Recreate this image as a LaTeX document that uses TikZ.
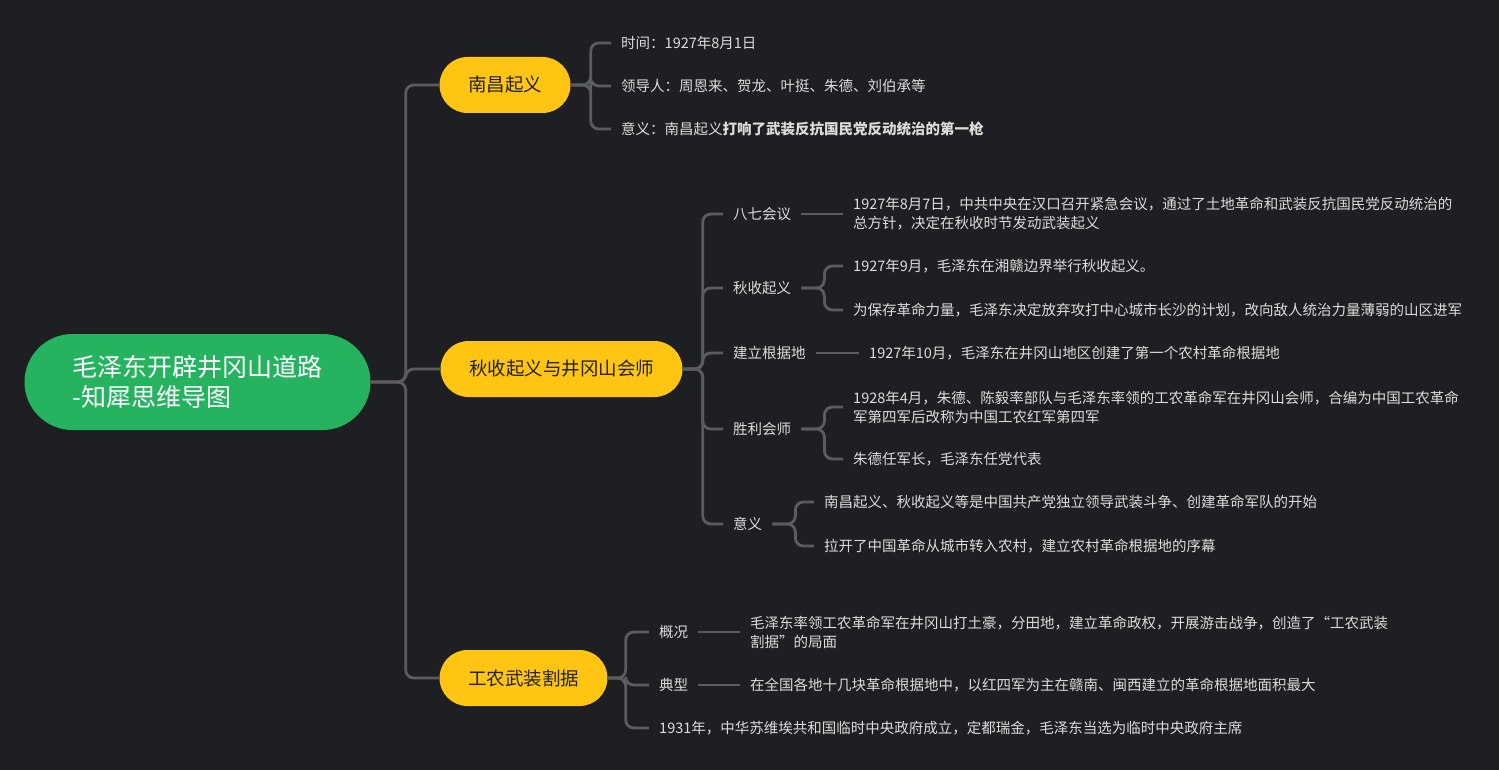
\documentclass[tikz,border=0pt]{standalone}
\usepackage{fontspec}
\setmainfont{Noto Sans CJK SC}
\definecolor{bgc}{HTML}{1E1F22}
\definecolor{linec}{HTML}{5B5C5F}
\definecolor{leafc}{HTML}{DCDCDC}
\definecolor{greenc}{HTML}{25B35F}
\definecolor{yellowc}{HTML}{FFC512}
\definecolor{darkc}{HTML}{222222}

\tikzstyle{central}=[rectangle,
    fill=greenc,
    text=white,
    rounded corners=48pt,
    minimum width=345pt,
    minimum height=96pt,
    inner xsep=48pt,
    align=left,
    font=\fontsize{25}{30}\selectfont]
\tikzstyle{topic}=[rectangle,
    fill=yellowc,
    text=darkc,
    rounded corners=28pt,
    minimum height=56pt,
    inner xsep=28.5pt,
    font=\fontsize{18.5}{22}\selectfont]
\tikzstyle{leaf}=[anchor=west,
    inner xsep=10pt,
    inner ysep=2pt,
    text=leafc,
    align=left,
    font=\fontsize{14.5}{19}\selectfont]
\tikzstyle{link}=[draw=linec, line width=2.8pt, rounded corners=8pt]

\begin{document}
\begin{tikzpicture}[x=1pt,y=-1pt]
            \fill[bgc] (0,0) rectangle (1499,770);
            \useasboundingbox (0,0) rectangle (1499,770);

            \node (main) [central] at (197.5,382) {毛泽东开辟井冈山道路\\-知犀思维导图};
            \node (nanchang) [topic] at (505,85) {南昌起义};
            \node (qiushou) [topic] at (561.5,369) {秋收起义与井冈山会师};
            \node (gongnong) [topic] at (523.5,678) {工农武装割据};

            \node (shijian) [leaf] at (611,43) {时间：1927年8月1日};
            \node (lingdao) [leaf] at (611,86) {领导人：周恩来、贺龙、叶挺、朱德、刘伯承等};
            \node (yiyiA) [leaf] at (611,129) {意义：南昌起义\textbf{打响了武装反抗国民党反动统治的第一枪}};

            \node (baqi) [leaf] at (723,214) {八七会议};
            \node (baqiT) [leaf] at (843,214) {1927年8月7日，中共中央在汉口召开紧急会议，通过了土地革命和武装反抗国民党反动统治的\\总方针，决定在秋收时节发动武装起义};
            \node (qiu) [leaf] at (723,288) {秋收起义};
            \node (qiuA) [leaf] at (843,266) {1927年9月，毛泽东在湘赣边界举行秋收起义。};
            \node (qiuB) [leaf] at (843,310) {为保存革命力量，毛泽东决定放弃攻打中心城市长沙的计划，改向敌人统治力量薄弱的山区进军};
            \node (genju) [leaf] at (723,353) {建立根据地};
            \node (genjuT) [leaf] at (859,353) {1927年10月，毛泽东在井冈山地区创建了第一个农村革命根据地};
            \node (huishi) [leaf] at (723,429) {胜利会师};
            \node (huishiA) [leaf] at (843,407) {1928年4月，朱德、陈毅率部队与毛泽东率领的工农革命军在井冈山会师，合编为中国工农革命\\军第四军后改称为中国工农红军第四军};
            \node (huishiB) [leaf] at (843,459) {朱德任军长，毛泽东任党代表};
            \node (yiyiB) [leaf] at (723,524) {意义};
            \node (yiyiB1) [leaf] at (814,502) {南昌起义、秋收起义等是中国共产党独立领导武装斗争、创建革命军队的开始};
            \node (yiyiB2) [leaf] at (814,546) {拉开了中国革命从城市转入农村，建立农村革命根据地的序幕};

            \node (gaikuang) [leaf] at (649,632) {概况};
            \node (gaikuangT) [leaf] at (740,632) {毛泽东率领工农革命军在井冈山打土豪，分田地，建立革命政权，开展游击战争，创造了“工农武装\\割据”的局面};
            \node (dianxing) [leaf] at (649,685) {典型};
            \node (dianxingT) [leaf] at (740,685) {在全国各地十几块革命根据地中，以红四军为主在赣南、闽西建立的革命根据地面积最大};
            \node (zhengfu) [leaf] at (649,728) {1931年，中华苏维埃共和国临时中央政府成立，定都瑞金，毛泽东当选为临时中央政府主席};

            \draw [link] (main.east) -- ++(35,0) |- (nanchang.west);
            \draw [link] (main.east) -- ++(35,0) |- (qiushou.west);
            \draw [link] (main.east) -- ++(35,0) |- (gongnong.west);

            \draw [link] (nanchang.east) -- ++(20,0) |- (shijian.west);
            \draw [link] (nanchang.east) -- ++(20,0) |- (lingdao.west);
            \draw [link] (nanchang.east) -- ++(20,0) |- (yiyiA.west);

            \draw [link] (qiushou.east) -- ++(20,0) |- (baqi.west);
            \draw [link] (qiushou.east) -- ++(20,0) |- (qiu.west);
            \draw [link] (qiushou.east) -- ++(20,0) |- (genju.west);
            \draw [link] (qiushou.east) -- ++(20,0) |- (huishi.west);
            \draw [link] (qiushou.east) -- ++(20,0) |- (yiyiB.west);
            \draw [link] (baqi.east) -- (baqiT.west);
            \draw [link] (qiu.east) -- ++(23,0) |- (qiuA.west);
            \draw [link] (qiu.east) -- ++(23,0) |- (qiuB.west);
            \draw [link] (genju.east) -- (genjuT.west);
            \draw [link] (huishi.east) -- ++(23,0) |- (huishiA.west);
            \draw [link] (huishi.east) -- ++(23,0) |- (huishiB.west);
            \draw [link] (yiyiB.east) -- ++(23,0) |- (yiyiB1.west);
            \draw [link] (yiyiB.east) -- ++(23,0) |- (yiyiB2.west);

            \draw [link] (gongnong.east) -- ++(18,0) |- (gaikuang.west);
            \draw [link] (gongnong.east) -- ++(18,0) |- (dianxing.west);
            \draw [link] (gongnong.east) -- ++(18,0) |- (zhengfu.west);
            \draw [link] (gaikuang.east) -- (gaikuangT.west);
            \draw [link] (dianxing.east) -- (dianxingT.west);

        \end{tikzpicture}
\end{document}
